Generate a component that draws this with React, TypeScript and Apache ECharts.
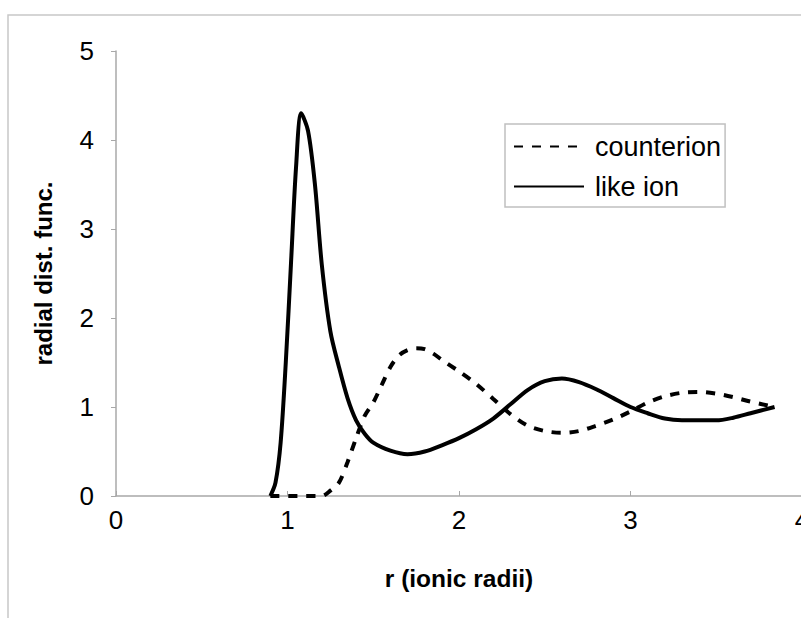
import React, { useEffect, useRef } from "react";
import * as echarts from "echarts";

const xTicks = [0, 1, 2, 3, 4];
const yTicks = [0, 1, 2, 3, 4, 5];
const seriesNames = ["counterion", "like ion"];

const counterR = [0.9, 1.0, 1.1, 1.2, 1.25, 1.3, 1.35, 1.4, 1.45, 1.5, 1.55, 1.6, 1.65, 1.7, 1.75, 1.8, 1.85, 1.9, 2.0, 2.1, 2.2, 2.3, 2.4, 2.5, 2.6, 2.7, 2.8, 2.9, 3.0, 3.1, 3.2, 3.3, 3.4, 3.5, 3.6, 3.7, 3.84];
const counterG = [0, 0, 0, 0, 0.06, 0.15, 0.38, 0.65, 0.9, 1.05, 1.25, 1.45, 1.58, 1.64, 1.66, 1.65, 1.6, 1.53, 1.4, 1.26, 1.09, 0.92, 0.79, 0.73, 0.71, 0.73, 0.79, 0.86, 0.95, 1.05, 1.12, 1.16, 1.17, 1.15, 1.11, 1.06, 1.0];

const likeR = [0.9, 0.93, 0.96, 0.99, 1.02, 1.05, 1.08, 1.12, 1.16, 1.2, 1.25, 1.3, 1.35, 1.4, 1.45, 1.5, 1.6, 1.7, 1.8, 1.9, 2.0, 2.1, 2.2, 2.3, 2.4, 2.5, 2.6, 2.7, 2.8, 2.9, 3.0, 3.1, 3.2, 3.3, 3.4, 3.5, 3.6, 3.7, 3.84];
const likeG = [0, 0.15, 0.6, 1.5, 2.6, 3.7, 4.3, 4.1, 3.5, 2.6, 1.85, 1.45, 1.1, 0.85, 0.7, 0.6, 0.51, 0.47, 0.5, 0.57, 0.65, 0.75, 0.87, 1.03, 1.19, 1.29, 1.32, 1.28, 1.2, 1.1, 1.0, 0.93, 0.87, 0.85, 0.85, 0.85, 0.88, 0.93, 1.0];

const pairs = (xs: number[], ys: number[]) => xs.map((x, i) => [x, ys[i]]);

export default function App() {
  const ref = useRef<HTMLDivElement>(null);
  useEffect(() => {
    if (!ref.current) return;
    const chart = echarts.init(ref.current, undefined, { renderer: "svg" });
    const font = "Liberation Sans, Arial, sans-serif";
    chart.setOption({
      animation: false,
      backgroundColor: "#ffffff",
      textStyle: { fontFamily: font },
      graphic: [
        {
          type: "rect",
          shape: { x: 8, y: 15, width: 900, height: 700 },
          style: { fill: "none", stroke: "#c8c8c8", lineWidth: 1.5 },
          silent: true,
        },
      ],
      grid: { left: 116, top: 51, width: 686, height: 445, outerBoundsMode: "none" },
      legend: {
        left: 505,
        top: 124,
        orient: "vertical",
        data: seriesNames,
        itemWidth: 70,
        itemHeight: 14,
        itemGap: 13,
        padding: [9, 4, 7, 8],
        borderColor: "#c0c0c0",
        borderWidth: 1.5,
        itemStyle: { opacity: 0 },
        textStyle: { fontSize: 27, color: "#000", fontFamily: font, padding: [0, 0, 0, 6] },
      },
      xAxis: {
        type: "value",
        min: xTicks[0],
        max: xTicks[xTicks.length - 1],
        interval: 1,
        name: "r (ionic radii)",
        nameLocation: "middle",
        nameGap: 70,
        nameTextStyle: { fontSize: 24.5, fontWeight: "bold", color: "#000", fontFamily: font },
        axisLine: { lineStyle: { color: "#a8a8a8", width: 1.5 } },
        axisTick: { inside: true, length: 5, lineStyle: { color: "#a8a8a8" } },
        axisLabel: { fontSize: 26, color: "#000", margin: 11, fontFamily: font },
        splitLine: { show: false },
      },
      yAxis: {
        type: "value",
        min: yTicks[0],
        max: yTicks[yTicks.length - 1],
        interval: 1,
        name: "radial dist. func.",
        nameLocation: "middle",
        nameGap: 61,
        nameTextStyle: { fontSize: 24, fontWeight: "bold", color: "#000", fontFamily: font },
        axisLine: { show: true, lineStyle: { color: "#a8a8a8", width: 1.5 } },
        axisTick: { show: true, length: 5, lineStyle: { color: "#a8a8a8" } },
        axisLabel: { fontSize: 26, color: "#000", margin: 22, fontFamily: font },
        splitLine: { show: false },
      },
      series: [
        {
          name: seriesNames[0],
          type: "line",
          data: pairs(counterR, counterG),
          symbol: "none",
          smooth: 0.3,
          color: "#000",
          lineStyle: { color: "#000", width: 4, type: [9, 9] },
          z: 2,
        },
        {
          name: seriesNames[1],
          type: "line",
          data: pairs(likeR, likeG),
          symbol: "none",
          smooth: 0.3,
          color: "#000",
          lineStyle: { color: "#000", width: 4 },
          z: 3,
        },
      ],
    });
    return () => chart.dispose();
  }, []);
  return (
    <div
      ref={ref}
      style={{ position: "fixed", left: 0, top: 0, width: 801, height: 618 }}
    />
  );
}
